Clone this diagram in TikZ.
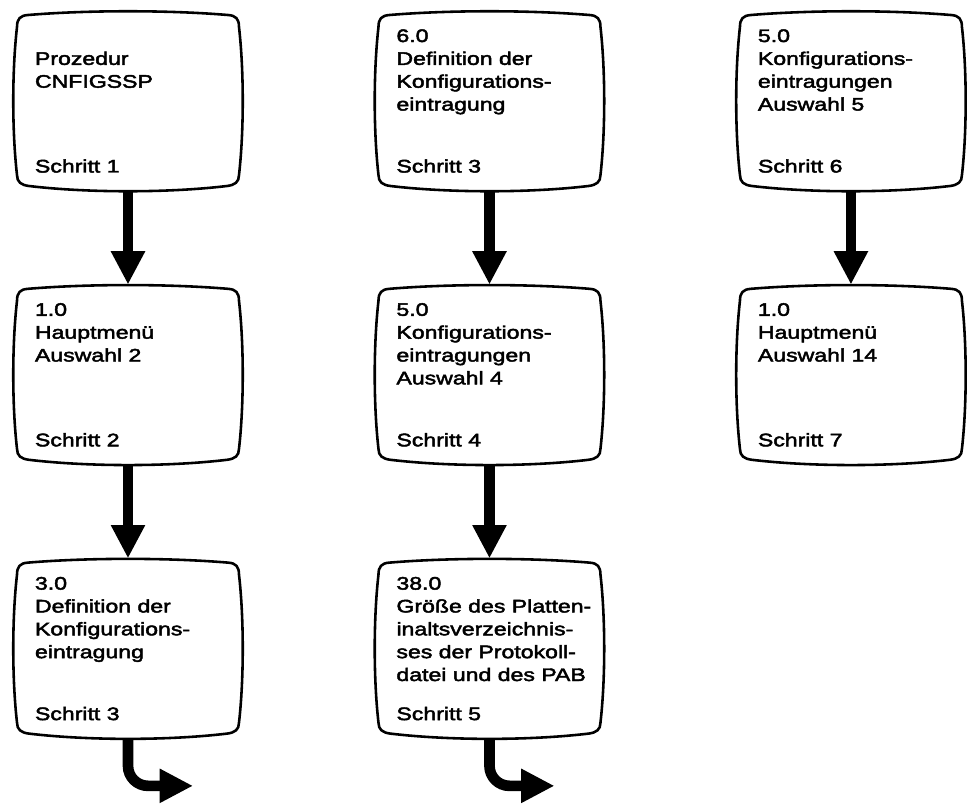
\documentclass[tikz,border=0pt]{standalone}
\usepackage{fontspec}
\setmainfont{Liberation Sans}[FakeStretch=1.27, FakeBold=2.5]
\usetikzlibrary{positioning,arrows.meta}

\begin{document}
\begin{tikzpicture}[
        node distance=2.8cm and 3.93cm,
        screen/.style={rectangle, minimum width=6.9cm, minimum height=5.4cm, inner sep=0pt,
            font=\fontsize{15.5pt}{19.5pt}\selectfont,
            execute at begin node={\begin{minipage}[t][4.3cm][t]{6.5cm}\raggedright\leftskip=0.46cm},
            execute at end node={\end{minipage}}},
        frame/.style={line width=2.2pt, line join=round, x=0.03cm, y=0.03cm},
        flow/.style={line width=0.32cm, -{Triangle[length=1cm, width=0.96cm]}}
    ]
    \fill[white] (0,0) rectangle (29.13,-24.12);

    % linke Spalte
    \node[screen] (proc) at (3.84,-3.03) {\phantom{0}\\Prozedur\\CNFIGSSP\vfill Schritt 1};
    \node[screen, below=of proc] (menu2) {1.0\\Hauptmenü\\Auswahl 2\vfill Schritt 2};
    \node[screen, below=of menu2] (def3) {3.0\\Definition der\\Konfigurations-\\eintragung\vfill Schritt 3};

    % mittlere Spalte
    \node[screen, right=of proc] (def6) {6.0\\Definition der\\Konfigurations-\\eintragung\vfill Schritt 3};
    \node[screen, below=of def6] (konf4) {5.0\\Konfigurations-\\eintragungen\\Auswahl 4\vfill Schritt 4};
    \node[screen, below=of konf4] (size) {38.0\\Größe des Platten-\\inaltsverzeichnis-\\ses der Protokoll-\\datei und des PAB\vfill Schritt 5};

    % rechte Spalte
    \node[screen, right=of def6] (konf5) {5.0\\Konfigurations-\\eintragungen\\Auswahl 5\vfill Schritt 6};
    \node[screen, below=of konf5] (menu14) {1.0\\Hauptmenü\\Auswahl 14\vfill Schritt 7};

    % Bildschirmrahmen
    \foreach \n in {proc,menu2,def3,def6,konf4,size,konf5,menu14}
        \draw[frame, shift={(\n.center)}] (-100,86)
            .. controls (-40,91) and (40,91) .. (100,86)
            .. controls (108,85.5) and (111,82) .. (111,74)
            .. controls (116,30) and (116,-30) .. (111,-74)
            .. controls (111,-81) and (107,-84) .. (99,-85)
            .. controls (40,-92) and (-40,-92) .. (-99,-85)
            .. controls (-107,-84) and (-111,-81) .. (-111,-74)
            .. controls (-116,-30) and (-116,30) .. (-111,74)
            .. controls (-111,82) and (-108,85.5) .. (-100,86) -- cycle;

    \coordinate[below right=1.41cm and 1.95cm of def3.south] (def3out);
    \coordinate[below right=1.41cm and 1.95cm of size.south] (sizeout);

    \draw[flow] (proc.south) -- (menu2.north);
    \draw[flow] (menu2.south) -- (def3.north);
    \draw[flow] (def6.south) -- (konf4.north);
    \draw[flow] (konf4.south) -- (size.north);
    \draw[flow] (konf5.south) -- (menu14.north);
    \draw[flow, rounded corners=0.6cm] (def3.south) |- (def3out);
    \draw[flow, rounded corners=0.6cm] (size.south) |- (sizeout);
\end{tikzpicture}
\end{document}
